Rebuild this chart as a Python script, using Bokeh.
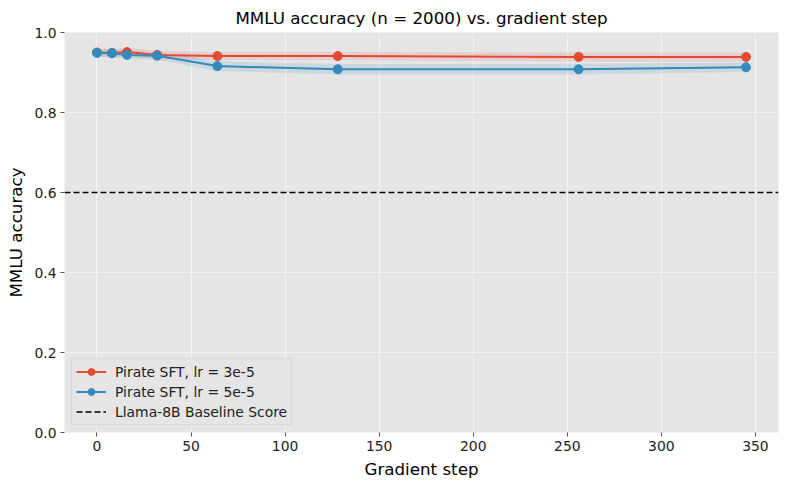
from bokeh.plotting import figure
from bokeh.models import FixedTicker, PrintfTickFormatter, Range1d
from bokeh.embed import file_html
from bokeh.resources import INLINE

# ---- data ----
steps = [0, 8, 16, 32, 64, 128, 256, 345]
acc_lr3e5 = [0.950, 0.949, 0.951, 0.944, 0.941, 0.941, 0.939, 0.939]
acc_lr5e5 = [0.949, 0.948, 0.944, 0.942, 0.916, 0.908, 0.908, 0.913]
ci_lr3e5 = [0.010, 0.010, 0.010, 0.010, 0.010, 0.010, 0.011, 0.011]
ci_lr5e5 = [0.010, 0.010, 0.010, 0.010, 0.012, 0.013, 0.013, 0.012]
baseline = 0.60
x_ticks = [0, 50, 100, 150, 200, 250, 300, 350]
y_ticks = [0.0, 0.2, 0.4, 0.6, 0.8, 1.0]
labels = ["Pirate SFT, lr = 3e-5", "Pirate SFT, lr = 5e-5", "Llama-8B Baseline Score"]
colors = ["#E24A33", "#348ABD"]

FONT = "DejaVu Sans"

p = figure(
    output_backend="svg", toolbar_location=None,
    frame_width=714, frame_height=400,
    min_border_left=64, min_border_top=28, min_border_right=2, min_border_bottom=45,
    x_range=Range1d(-17.25, 362.25), y_range=Range1d(0, 1.0),
    title="MMLU accuracy (n = 2000) vs. gradient step",
)

p.background_fill_color = "#E5E5E5"
p.border_fill_color = "white"
p.outline_line_color = None

p.title.align = "center"
p.title.text_font = FONT
p.title.text_font_size = "16.7px"
p.title.text_font_style = "normal"
p.title.text_color = "black"

for ax in (p.xaxis[0], p.yaxis[0]):
    ax.axis_line_color = None
    ax.major_tick_line_color = "#555555"
    ax.major_tick_out = 4
    ax.major_tick_in = 0
    ax.minor_tick_line_color = None
    ax.major_label_text_font = FONT
    ax.major_label_text_font_size = "13.9px"
    ax.major_label_text_color = "#222222"
    ax.axis_label_text_font = FONT
    ax.axis_label_text_font_size = "16.7px"
    ax.axis_label_text_font_style = "normal"
    ax.axis_label_text_color = "black"

p.xaxis.ticker = FixedTicker(ticks=x_ticks)
p.yaxis.ticker = FixedTicker(ticks=y_ticks)
p.yaxis.formatter = PrintfTickFormatter(format="%.1f")
p.xaxis.axis_label = "Gradient step"
p.yaxis.axis_label = "MMLU accuracy"
p.xaxis.major_label_standoff = 4
p.yaxis.major_label_standoff = 4
p.xaxis.axis_label_standoff = 5
p.yaxis.axis_label_standoff = 5

p.grid.grid_line_color = "white"
p.grid.grid_line_width = 1
p.grid.grid_line_alpha = 0.55
p.xgrid.ticker = FixedTicker(ticks=x_ticks)
p.ygrid.ticker = FixedTicker(ticks=y_ticks)

series = [(acc_lr3e5, ci_lr3e5), (acc_lr5e5, ci_lr5e5)]
for (acc, ci), col, lab in zip(series, colors, labels[:2]):
    lo = [a - c for a, c in zip(acc, ci)]
    hi = [a + c for a, c in zip(acc, ci)]
    p.varea(x=steps, y1=lo, y2=hi, fill_color=col, fill_alpha=0.15)
for (acc, ci), col, lab in zip(series, colors, labels[:2]):
    p.line(steps, acc, line_color=col, line_width=2, legend_label=lab)
    p.scatter(steps, acc, size=9, fill_color=col, line_color=col, legend_label=lab)

p.hspan(y=[baseline], line_color="black", line_dash="6 3", line_width=1.6,
        legend_label=labels[2])

lg = p.legend[0]
lg.location = "bottom_left"
lg.margin = 7
lg.padding = 4
lg.spacing = 3
lg.glyph_width = 30
lg.glyph_height = 17
lg.label_standoff = 9
lg.label_height = 17
lg.label_text_font = FONT
lg.label_text_font_size = "13.9px"
lg.label_text_color = "#222222"
lg.background_fill_color = "#E5E5E5"
lg.background_fill_alpha = 0.8
lg.border_line_color = "#CCCCCC"
lg.border_line_width = 1

open("out.html", "w").write(file_html(p, INLINE))
